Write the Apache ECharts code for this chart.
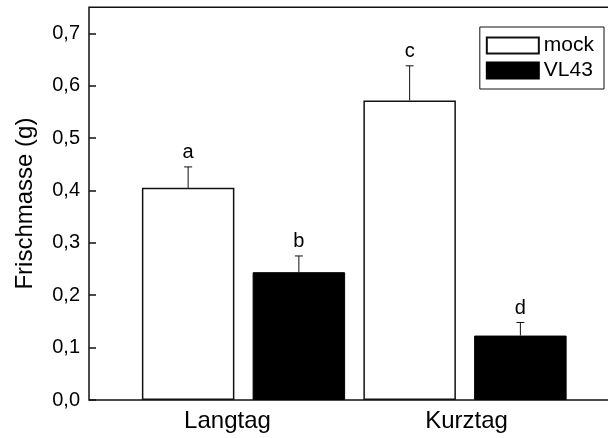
<!DOCTYPE html>
<html>
<head>
<meta charset="utf-8">
<script src="https://cdn.jsdelivr.net/npm/echarts@6/dist/echarts.min.js"></script>
<style>html,body{margin:0;padding:0;background:#fff}#c{width:608px;height:438px}</style>
</head>
<body>
<div id="c"></div>
<script>
const categories = ['Langtag', 'Kurztag'];
const seriesNames = ['mock', 'VL43'];
const mockValues = [0.405, 0.572];
const mockErrors = [0.040, 0.066];
const mockLetters = ['a', 'c'];
const vl43Values = [0.244, 0.123];
const vl43Errors = [0.031, 0.025];
const vl43Letters = ['b', 'd'];
const yTickLabels = ['0,0', '0,1', '0,2', '0,3', '0,4', '0,5', '0,6', '0,7'];
const yAxisTitle = 'Frischmasse (g)';

const FONT = 'Liberation Sans, Arial, sans-serif';
const chart = echarts.init(document.getElementById('c'), null, {renderer: 'canvas'});

function errSeries(name, values, errors, letters, side) {
  return {
    type: 'custom',
    name: name + '_err',
    xAxisIndex: 0, yAxisIndex: 0,
    z: 5,
    silent: true,
    data: values.map((v, i) => [i, v, errors[i]]),
    renderItem: function (params, api) {
      const i = api.value(0), v = api.value(1), e = api.value(2);
      const band = api.size([1, 0])[0];
      const cx = api.coord([i, 0])[0] + side * band / 4;
      const yb = api.coord([i, v])[1];
      const yt = api.coord([i, v + e])[1];
      const st = {stroke: '#111', lineWidth: 1};
      return {
        type: 'group',
        children: [
          {type: 'line', shape: {x1: cx, y1: yb, x2: cx, y2: yt}, style: st},
          {type: 'line', shape: {x1: cx - 4, y1: yt, x2: cx + 4, y2: yt}, style: st},
          {type: 'text', x: cx, y: yt - 4, style: {text: letters[params.dataIndex], fill: '#000', font: '20px ' + FONT, align: 'center', verticalAlign: 'bottom'}}
        ]
      };
    }
  };
}

const option = {
  backgroundColor: '#fff',
  animation: false,
  grid: [
    {left: 132.75, width: 443, top: 7.15, bottom: 38, outerBoundsMode: 'none', containLabel: false},
    {left: 89, width: 600, top: 7.15, bottom: 38, show: true, borderColor: '#111', borderWidth: 1.5, backgroundColor: 'transparent', outerBoundsMode: 'none', containLabel: false}
  ],
  legend: {
    orient: 'vertical',
    right: 4, top: 27,
    padding: [8, 10, 8, 6],
    itemGap: 4,
    itemWidth: 52, itemHeight: 16,
    icon: 'rect',
    backgroundColor: '#fff',
    borderColor: '#111', borderWidth: 1,
    borderRadius: 0,
    data: seriesNames,
    textStyle: {fontFamily: FONT, fontSize: 21, color: '#000'}
  },
  xAxis: [
    {
      type: 'category', gridIndex: 0, data: categories,
      axisLine: {show: false}, axisTick: {show: false},
      axisLabel: {
        margin: 9, color: '#000', fontFamily: FONT, fontSize: 24,
        formatter: function (v, idx) { return idx === 0 ? '{l|' + v + '}' : '{k|' + v + '}'; },
        rich: {
          l: {fontFamily: FONT, fontSize: 24, color: '#000', padding: [0, 32, 0, 0]},
          k: {fontFamily: FONT, fontSize: 24, color: '#000', padding: [0, 0, 0, 3]}
        }
      },
      splitLine: {show: false}
    },
    {type: 'value', gridIndex: 1, show: false, min: 0, max: 1, splitLine: {show: false}}
  ],
  yAxis: [
    {
      type: 'value', gridIndex: 0, min: 0, max: 0.75, interval: 0.1,
      offset: 43.75,
      name: yAxisTitle, nameLocation: 'middle', nameGap: 52, nameRotate: 90,
      nameTextStyle: {fontFamily: FONT, fontSize: 24, color: '#000'},
      axisLine: {show: false},
      axisTick: {show: true, inside: true, length: 7, lineStyle: {color: '#111', width: 1.5}},
      axisLabel: {
        margin: 9, color: '#000', fontFamily: FONT, fontSize: 20, showMaxLabel: false,
        formatter: function (v) { const k = Math.round(v * 10); return Math.abs(v * 10 - k) < 1e-6 ? (yTickLabels[k] || '') : ''; }
      },
      splitLine: {show: false}
    },
    {type: 'value', gridIndex: 1, show: false, min: 0, max: 1, splitLine: {show: false}}
  ],
  series: [
    {
      type: 'bar', name: seriesNames[0], xAxisIndex: 0, yAxisIndex: 0,
      data: mockValues, barWidth: 92.5, barGap: '19.7%',
      itemStyle: {color: '#fff', borderColor: '#111', borderWidth: 1.5}
    },
    {
      type: 'bar', name: seriesNames[1], xAxisIndex: 0, yAxisIndex: 0,
      data: vl43Values, barWidth: 92.5, barGap: '19.7%',
      itemStyle: {color: '#000', borderColor: '#000', borderWidth: 1}
    },
    errSeries(seriesNames[0], mockValues, mockErrors, mockLetters, -1),
    errSeries(seriesNames[1], vl43Values, vl43Errors, vl43Letters, 1)
  ]
};
chart.setOption(option);
</script>
</body>
</html>
